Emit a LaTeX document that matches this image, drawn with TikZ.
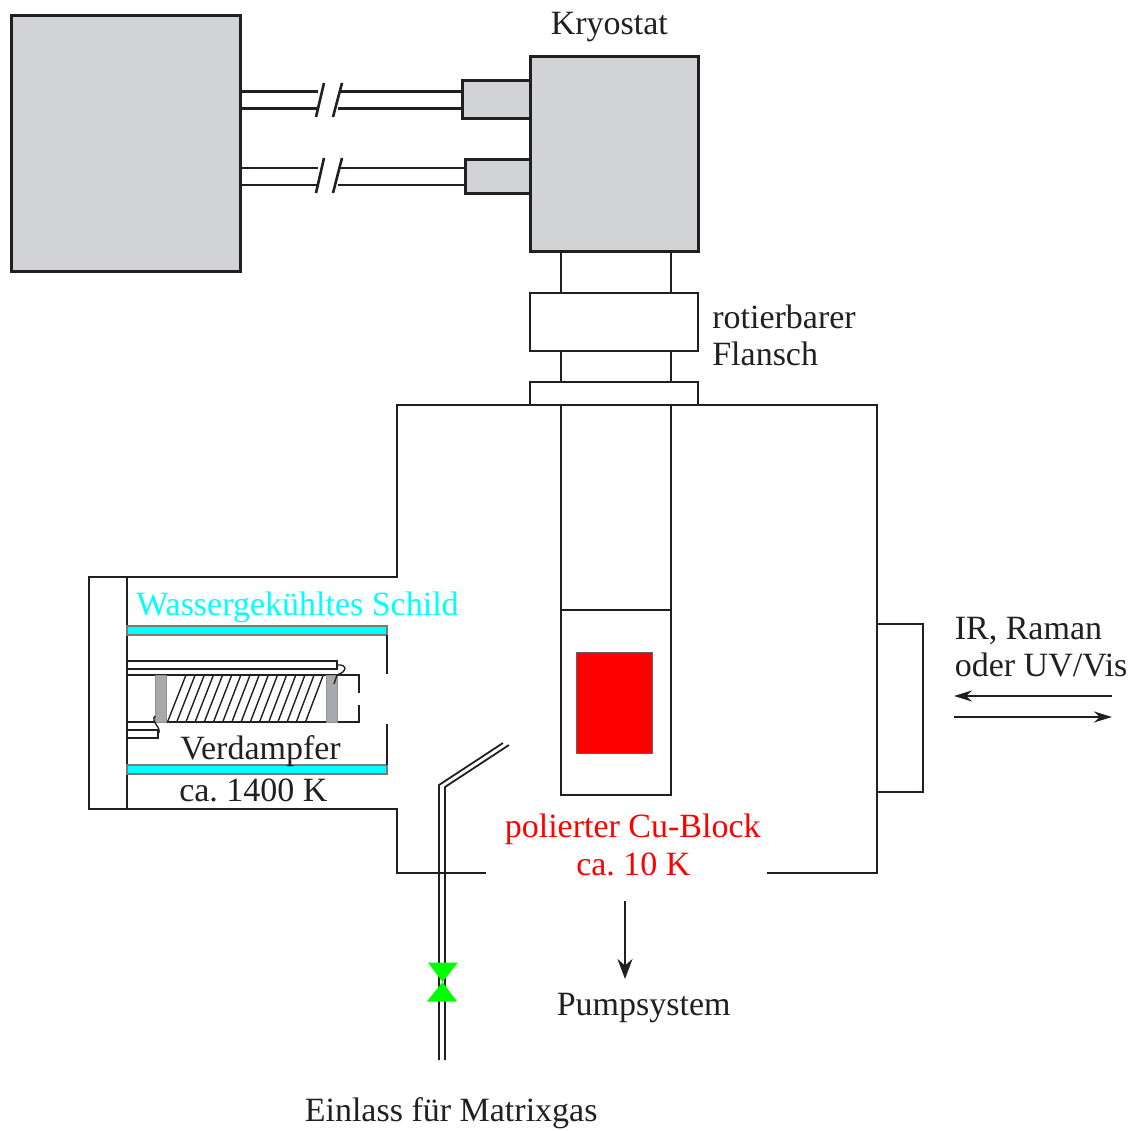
\documentclass[tikz,border=0pt]{standalone}
\usepackage{fontspec}
\setmainfont{Liberation Serif}
\definecolor{kastengrau}{HTML}{D1D3D4}
\definecolor{haltergrau}{HTML}{A7A9AC}
\definecolor{linie}{HTML}{231F20}
\definecolor{wasser}{HTML}{00FFFF}
\definecolor{ventilgruen}{HTML}{00FF00}
\definecolor{blockrot}{HTML}{FF0000}
\tikzstyle{schema}=[x=1pt, y=-1pt, line width=2.6pt, draw=linie, color=linie, >={Stealth[length=20pt,width=15pt]}]
\tikzstyle{kasten}=[draw=linie, line width=3pt, fill=kastengrau, inner sep=0pt, outer sep=0pt]
\tikzstyle{flansch}=[draw=linie, line width=2.6pt, fill=white, inner sep=0pt, outer sep=0pt]
\tikzstyle{schild}=[draw=linie!60, line width=1.4pt, fill=wasser, inner sep=0pt, outer sep=0pt]
\tikzstyle{halter}=[draw=linie!50, line width=1pt, fill=haltergrau, inner sep=0pt, outer sep=0pt]
\tikzstyle{beschriftung}=[anchor=base west, inner sep=0pt, font=\fontsize{34}{38}\selectfont\frenchspacing]
\tikzstyle{duenn}=[line width=1.8pt]
\usetikzlibrary{arrows.meta}

\begin{document}
\begin{tikzpicture}[schema]
  \useasboundingbox (0,0) rectangle (1133,1131);
  % Kaesten oben
  \node[kasten,minimum width=229pt,minimum height=256pt] (netzteil) at (125.5,144) {};
  \node[kasten,minimum width=168pt,minimum height=195pt] (kryostat) at (614,154.5) {};
  \node[kasten,minimum width=68pt,minimum height=38pt] (stutzenA) at (496,100) {};
  \node[kasten,minimum width=65pt,minimum height=34pt] (stutzenB) at (497.5,177) {};
  \node[flansch,minimum width=168pt,minimum height=58pt] (drehflansch) at (614,322) {};
  \node[flansch,minimum width=168pt,minimum height=23pt] (kammerflansch) at (614,393.5) {};
  \node[flansch,minimum width=110pt,minimum height=390pt] (finger) at (616,600) {};
  \node[flansch,draw=linie!70,line width=1pt,minimum width=76pt,minimum height=101pt,fill=blockrot] (block) at (614,702.5) {};
  \node[flansch,minimum width=46pt,minimum height=168pt] (fenster) at (900,708) {};
  \node[flansch,minimum width=38pt,minimum height=232pt] (deckel) at (108,693) {};

  % Leitungen mit Bruch
  \coordinate (bruchAo) at (318,92);
  \coordinate (bruchAu) at (317,109);
  \coordinate (bruchBo) at (318,168);
  \coordinate (bruchBu) at (317,185);
  \coordinate (weiterAo) at (340,92);
  \coordinate (weiterAu) at (338,109);
  \coordinate (weiterBo) at (340,168);
  \coordinate (weiterBu) at (338,185);
  \draw[line width=3pt] (netzteil.east |- bruchAo) -- (bruchAo);
  \draw[line width=3pt] (netzteil.east |- bruchAu) -- (bruchAu);
  \draw[line width=3pt] (weiterAo) -- (stutzenA.west |- weiterAo);
  \draw[line width=3pt] (weiterAu) -- (stutzenA.west |- weiterAu);
  \draw (netzteil.east |- bruchBo) -- (bruchBo);
  \draw (netzteil.east |- bruchBu) -- (bruchBu);
  \draw (weiterBo) -- (stutzenB.west |- weiterBo);
  \draw (weiterBu) -- (stutzenB.west |- weiterBu);
  \draw (316,117) -- (324,83);
  \draw (333,117) -- (342,83);
  \draw (316,193) -- (324,158);
  \draw (333,193) -- (342,158);

  % Hals
  \draw ([xshift=31pt]kryostat.south west) -- ([xshift=31pt]drehflansch.north west);
  \draw ([xshift=-27pt]kryostat.south east) -- ([xshift=-27pt]drehflansch.north east);
  \draw ([xshift=31pt]drehflansch.south west) -- ([xshift=31pt]kammerflansch.north west);
  \draw ([xshift=-27pt]drehflansch.south east) -- ([xshift=-27pt]kammerflansch.north east);
  \draw (finger.west |- 0,610) -- (finger.east |- 0,610);

  % Kammer
  \coordinate (rohrlinks) at (486,873);
  \coordinate (rohrrechts) at (767,873);
  \draw (kammerflansch.south west) -- (397,405) -- (397,577) -- (deckel.north east);
  \draw (deckel.south east) -- (397,809) -- (397,873) -- (rohrlinks);
  \draw (kammerflansch.south east) -- (877,405) -- (877,873) -- (rohrrechts);

  % Schild
  \node[schild,minimum width=260pt,minimum height=9pt] (schildoben) at (257,630.5) {};
  \node[schild,minimum width=260pt,minimum height=9pt] (schildunten) at (257,769.5) {};
  \draw[duenn] (schildoben.south east) -- ++(0,39);
  \draw[duenn] (schildunten.north east) -- ++(0,-41);

  % Verdampfer
  \node[flansch,line width=1.8pt,minimum width=210pt,minimum height=8pt] (rohroben) at (232,665) {};
  \node[flansch,line width=1.8pt,minimum width=31pt,minimum height=8pt] (rohrunten) at (142.5,734) {};
  \draw[duenn] (deckel.east |- 0,675) -- (359,675) -- (359,693);
  \draw[duenn] (deckel.east |- 0,722) -- (359,722) -- (359,705);
  \node[halter,minimum width=11pt,minimum height=47pt] (halterA) at (160.5,698.5) {};
  \node[halter,minimum width=11pt,minimum height=47pt] (halterB) at (331.5,698.5) {};
  \foreach \i in {0,...,15}
    \draw[line width=1.4pt] (167.5+\i*9.2,722) -- (186+\i*9.15,675);
  \draw[line width=1.4pt] (rohroben.east) .. controls (348,664) and (347,672) .. (halterB.north east) -- ++(-3,9);
  \draw[line width=1.4pt] (rohrunten.east) .. controls (163,728) and (150,722) .. (155,716);

  % Gaseinlass
  \coordinate (einlassA) at (439,1060);
  \coordinate (einlassB) at (445,1060);
  \coordinate (duesenendeA) at (503,743);
  \coordinate (duesenendeB) at (509,745);
  \draw[duenn] (einlassA) -- (439,785) -- (duesenendeA);
  \draw[duenn] (einlassB) -- (445,787) -- (duesenendeB);
  \coordinate (ventil) at (442.5,982);
  \fill[ventilgruen] (428,962.5) -- (458,962.5) -- (ventil) -- cycle;
  \fill[ventilgruen] (427,1001.5) -- (457,1001.5) -- (ventil) -- cycle;

  % Pfeile
  \coordinate (pumpeoben) at (625,901);
  \coordinate (pumpeunten) at (625,979);
  \coordinate (strahlAa) at (1112,696);
  \coordinate (strahlAb) at (954,696);
  \coordinate (strahlBa) at (954,717);
  \coordinate (strahlBb) at (1112,717);
  \draw[->] (pumpeoben) -- (pumpeunten);
  \draw[->,>={Stealth[length=18pt,width=11pt]}] (strahlAa) -- (strahlAb);
  \draw[->,>={Stealth[length=18pt,width=11pt]}] (strahlBa) -- (strahlBb);

  % Beschriftung
  \node[beschriftung] (tkryostat) at (549.5,34.5) {Kryostat};
  \node[beschriftung] (trotierbar) at (711,328.5) {rotierbarer};
  \node[beschriftung] (tflansch) at (711,365.5) {Flansch};
  \node[beschriftung,text=wasser] (tschild) at (135,615.5) {Wassergekühltes Schild};
  \node[beschriftung] (tverdampfer) at (179,759.5) {Verdampfer};
  \node[beschriftung] (tofen) at (178,801.5) {ca. 1400 K};
  \node[beschriftung,text=blockrot] (tblock) at (503.5,837.5) {polierter Cu-Block};
  \node[beschriftung,text=blockrot] (tkalt) at (575,875.5) {ca. 10 K};
  \node[beschriftung] (tpumpe) at (555.5,1015.5) {Pumpsystem};
  \node[beschriftung] (teinlass) at (303.5,1121.5) {Einlass für Matrixgas};
  \node[beschriftung] (tir) at (953.5,639.5) {IR, Raman};
  \node[beschriftung] (tuv) at (953.5,676.5) {oder UV/Vis};
\end{tikzpicture}
\end{document}
